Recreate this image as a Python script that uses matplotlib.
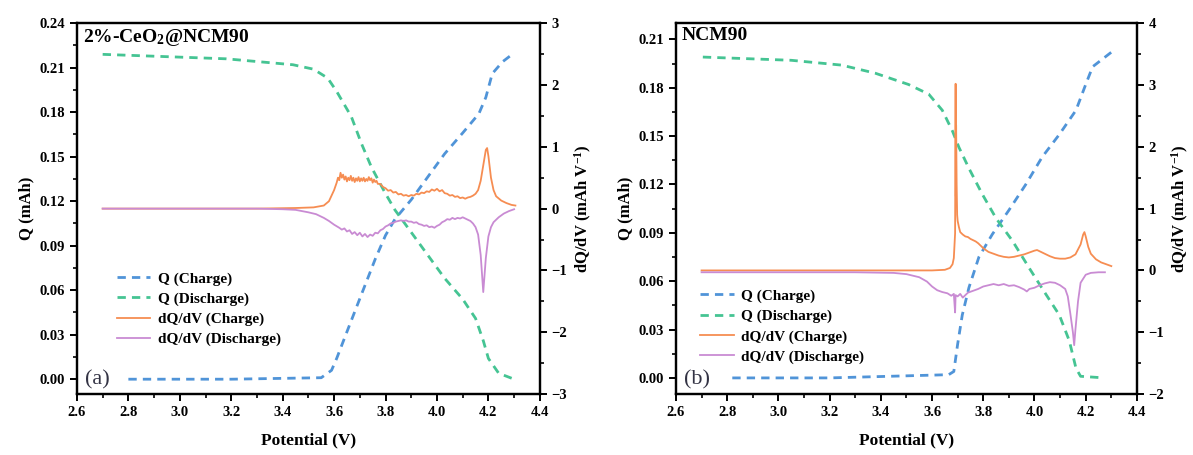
import numpy as np
import matplotlib.pyplot as plt
from matplotlib.ticker import MultipleLocator

# ---------------------------
# STYLE
# ---------------------------
plt.rcParams['font.family'] = ['Liberation Serif', 'DejaVu Serif']
plt.rcParams['font.weight'] = 'bold'
plt.rcParams['axes.labelweight'] = 'bold'
plt.rcParams['mathtext.fontset'] = 'custom'
plt.rcParams['mathtext.rm'] = 'Liberation Serif:bold'
plt.rcParams['mathtext.bf'] = 'Liberation Serif:bold'
plt.rcParams['mathtext.it'] = 'Liberation Serif:bold'

c_qc = "#5094d8"
c_qd = "#45c493"
c_dc = "#f68d52"
c_dd = "#c98bd3"

# ---------------------------
# DATA (a) 2%-CeO2@NCM90
# ---------------------------
a_qc_v = [2.80, 3.20, 3.55, 3.59, 3.61, 3.65, 3.706, 3.76, 3.80, 3.837, 3.90, 3.967,
          4.03, 4.10, 4.163, 4.19, 4.215, 4.255, 4.30]
a_qc_q = [0.000, 0.000, 0.001, 0.006, 0.014, 0.032, 0.057, 0.081, 0.097, 0.108, 0.121, 0.137,
          0.152, 0.166, 0.179, 0.190, 0.206, 0.214, 0.220]

a_qd_v = [2.70, 3.18, 3.44, 3.52, 3.575, 3.61, 3.667, 3.706, 3.745, 3.797, 3.837, 3.90,
          3.967, 4.03, 4.10, 4.15, 4.18, 4.20, 4.24, 4.30]
a_qd_q = [0.219, 0.216, 0.212, 0.209, 0.203, 0.194, 0.177, 0.159, 0.143, 0.126, 0.114, 0.099,
          0.083, 0.068, 0.054, 0.041, 0.026, 0.014, 0.004, 0.000]

a_dc_v = [2.70, 3.00, 3.30, 3.45, 3.52, 3.56, 3.58, 3.60, 3.61, 3.615, 3.62, 3.625, 3.63, 3.635,
          3.64, 3.645, 3.65, 3.655, 3.66, 3.665, 3.67, 3.675, 3.68, 3.685, 3.69, 3.695, 3.70,
          3.705, 3.71, 3.715, 3.72, 3.725, 3.73, 3.735, 3.74, 3.745, 3.75, 3.755, 3.76, 3.765,
          3.77, 3.78, 3.79, 3.80, 3.81, 3.82, 3.83, 3.84, 3.85, 3.86, 3.87, 3.88, 3.89, 3.90,
          3.91, 3.92, 3.93, 3.94, 3.95, 3.96, 3.97, 3.98, 3.99, 4.00, 4.01, 4.02, 4.03, 4.04,
          4.05, 4.06, 4.07, 4.08, 4.09, 4.10, 4.11, 4.12, 4.13, 4.14, 4.15, 4.16, 4.17, 4.18,
          4.19, 4.195, 4.20, 4.21, 4.22, 4.23, 4.25, 4.27, 4.29, 4.305]
a_dc_y = [0.00, 0.00, 0.00, 0.01, 0.02, 0.05, 0.12, 0.30, 0.42, 0.50, 0.46, 0.58, 0.50, 0.55,
          0.47, 0.52, 0.44, 0.50, 0.46, 0.53, 0.45, 0.50, 0.43, 0.49, 0.45, 0.51, 0.44,
          0.49, 0.45, 0.50, 0.44, 0.48, 0.45, 0.51, 0.46, 0.49, 0.42, 0.47, 0.43, 0.45,
          0.40, 0.40, 0.35, 0.33, 0.29, 0.30, 0.26, 0.27, 0.23, 0.24, 0.21, 0.22, 0.20, 0.22,
          0.21, 0.24, 0.23, 0.26, 0.25, 0.28, 0.27, 0.31, 0.29, 0.32, 0.28, 0.30, 0.25, 0.24,
          0.21, 0.22, 0.19, 0.20, 0.17, 0.18, 0.16, 0.18, 0.19, 0.21, 0.24, 0.30, 0.45, 0.70,
          0.95, 0.98, 0.85, 0.50, 0.30, 0.20, 0.13, 0.09, 0.06, 0.05]

a_dd_v = [2.70, 3.00, 3.30, 3.40, 3.45, 3.50, 3.53, 3.56, 3.58, 3.60, 3.62, 3.63, 3.64, 3.65,
          3.66, 3.67, 3.68, 3.69, 3.70, 3.71, 3.72, 3.73, 3.74, 3.75, 3.76, 3.77, 3.78, 3.79,
          3.80, 3.81, 3.82, 3.83, 3.84, 3.85, 3.86, 3.87, 3.88, 3.89, 3.90, 3.91, 3.92, 3.93,
          3.94, 3.95, 3.96, 3.97, 3.98, 3.99, 4.00, 4.01, 4.02, 4.03, 4.04, 4.05, 4.06, 4.07,
          4.08, 4.09, 4.10, 4.11, 4.12, 4.13, 4.14, 4.15, 4.16, 4.17, 4.18, 4.19, 4.20, 4.21,
          4.22, 4.24, 4.26, 4.28, 4.30]
a_dd_y = [0.00, 0.00, 0.00, -0.01, -0.02, -0.06, -0.09, -0.15, -0.20, -0.26, -0.31, -0.34, -0.32, -0.37,
          -0.35, -0.41, -0.38, -0.43, -0.39, -0.45, -0.41, -0.46, -0.42, -0.44, -0.39, -0.40, -0.35, -0.33,
          -0.29, -0.27, -0.24, -0.23, -0.21, -0.20, -0.19, -0.20, -0.19, -0.21, -0.21, -0.23, -0.22, -0.25,
          -0.26, -0.28, -0.27, -0.30, -0.29, -0.31, -0.28, -0.26, -0.22, -0.20, -0.17, -0.18, -0.15, -0.17,
          -0.15, -0.16, -0.14, -0.16, -0.18, -0.20, -0.24, -0.30, -0.42, -0.75, -1.35, -0.80, -0.45, -0.30,
          -0.22, -0.14, -0.08, -0.04, -0.01]

# ---------------------------
# DATA (b) NCM90
# ---------------------------
b_qc_v = [2.82, 3.20, 3.665, 3.685, 3.70, 3.718, 3.744, 3.783, 3.835, 3.90, 3.966, 4.03,
          4.097, 4.162, 4.20, 4.227, 4.30]
b_qc_q = [0.000, 0.000, 0.002, 0.004, 0.021, 0.039, 0.056, 0.075, 0.089, 0.104, 0.120, 0.137,
          0.151, 0.166, 0.182, 0.193, 0.202]

b_qd_v = [2.705, 3.05, 3.247, 3.378, 3.508, 3.587, 3.64, 3.68, 3.705, 3.744, 3.796, 3.85,
          3.914, 3.98, 4.044, 4.097, 4.136, 4.162, 4.18, 4.273]
b_qd_q = [0.199, 0.197, 0.194, 0.189, 0.182, 0.176, 0.166, 0.153, 0.143, 0.130, 0.114, 0.099,
          0.085, 0.068, 0.052, 0.039, 0.023, 0.006, 0.001, 0.000]

b_dc_v = [2.70, 3.00, 3.30, 3.50, 3.60, 3.65, 3.67, 3.68, 3.685, 3.69, 3.692, 3.693, 3.694,
          3.696, 3.698, 3.70, 3.705, 3.71, 3.72, 3.73, 3.74, 3.75, 3.76, 3.77, 3.78, 3.79,
          3.80, 3.81, 3.82, 3.84, 3.86, 3.88, 3.90, 3.92, 3.94, 3.96, 3.98, 4.00, 4.01, 4.02,
          4.04, 4.06, 4.08, 4.10, 4.12, 4.14, 4.16, 4.18, 4.19, 4.195, 4.20, 4.21, 4.22, 4.24,
          4.26, 4.28, 4.30]
b_dc_y = [0.00, 0.00, 0.00, 0.00, 0.00, 0.01, 0.04, 0.10, 0.20, 0.60, 3.02, 1.20, 2.35,
          1.40, 0.90, 0.80, 0.70, 0.62, 0.58, 0.55, 0.54, 0.51, 0.49, 0.47, 0.44, 0.40,
          0.36, 0.33, 0.30, 0.27, 0.24, 0.22, 0.21, 0.22, 0.24, 0.26, 0.29, 0.32, 0.33, 0.31,
          0.27, 0.23, 0.20, 0.19, 0.19, 0.21, 0.26, 0.42, 0.58, 0.62, 0.55, 0.38, 0.27, 0.18,
          0.13, 0.10, 0.07]

b_dd_v = [2.70, 3.00, 3.30, 3.45, 3.50, 3.55, 3.58, 3.60, 3.62, 3.64, 3.66, 3.675, 3.685,
          3.69, 3.692, 3.70, 3.71, 3.72, 3.73, 3.74, 3.76, 3.78, 3.80, 3.82, 3.84, 3.86, 3.88,
          3.90, 3.92, 3.94, 3.96, 3.97, 3.98, 4.00, 4.02, 4.04, 4.06, 4.08, 4.10, 4.12, 4.13,
          4.14, 4.15, 4.155, 4.16, 4.17, 4.18, 4.20, 4.22, 4.25, 4.275]
b_dd_y = [-0.03, -0.03, -0.03, -0.04, -0.06, -0.11, -0.18, -0.26, -0.32, -0.35, -0.37, -0.41, -0.38,
          -0.68, -0.40, -0.42, -0.38, -0.44, -0.40, -0.36, -0.33, -0.30, -0.26, -0.24, -0.22, -0.24, -0.22,
          -0.25, -0.24, -0.27, -0.31, -0.34, -0.30, -0.28, -0.24, -0.21, -0.19, -0.20, -0.24, -0.30, -0.42,
          -0.70, -1.00, -1.21, -0.95, -0.50, -0.20, -0.07, -0.04, -0.03, -0.03]


# ---------------------------
# HELPERS
# ---------------------------
def style_axis(ax):
    for s in ax.spines.values():
        s.set_linewidth(1.6)
    ax.tick_params(which='major', direction='out', length=5, width=1.4, labelsize=10.5)
    ax.tick_params(which='minor', direction='out', length=3, width=1.2)


def draw_panel(rect, qc, qd, dc, dd, ylim_q, ylim_d, tag, name, leg_xy):
    ax = fig.add_axes(rect)
    ax2 = ax.twinx()
    dash = (0, (3, 2.2))
    l1, = ax.plot(qc[0], qc[1], color=c_qc, lw=2, linestyle=dash, label="Q (Charge)")
    l2, = ax.plot(qd[0], qd[1], color=c_qd, lw=2, linestyle=dash, label="Q (Discharge)")
    l3, = ax2.plot(dc[0], dc[1], color=c_dc, lw=1.3, label="dQ/dV (Charge)")
    l4, = ax2.plot(dd[0], dd[1], color=c_dd, lw=1.3, label="dQ/dV (Discharge)")

    ax.set_xlim(2.6, 4.4)
    ax.set_ylim(*ylim_q)
    ax2.set_ylim(*ylim_d)
    ax.xaxis.set_major_locator(MultipleLocator(0.2))
    ax.xaxis.set_minor_locator(MultipleLocator(0.1))
    ax.yaxis.set_major_locator(MultipleLocator(0.03))
    ax.yaxis.set_minor_locator(MultipleLocator(0.015))
    ax2.yaxis.set_major_locator(MultipleLocator(1))
    ax2.yaxis.set_minor_locator(MultipleLocator(0.5))
    ax.yaxis.set_major_formatter(plt.FormatStrFormatter('%.2f'))
    ax.xaxis.set_major_formatter(plt.FormatStrFormatter('%.1f'))
    style_axis(ax)
    style_axis(ax2)

    ax.set_xlabel("Potential (V)", fontsize=12.5, labelpad=10)
    ax.set_ylabel("Q (mAh)", fontsize=12, labelpad=4)
    ax2.set_ylabel(r"dQ/dV (mAh V$^{-1}$)", fontsize=12, labelpad=4)

    ax.text(0.012, 0.99, name, transform=ax.transAxes, ha='left', va='top', fontsize=14)
    ax.text(0.018, 0.012, tag, transform=ax.transAxes, ha='left', va='bottom',
            fontsize=16, fontweight='normal', color='#333344')

    ax.legend(handles=[l1, l2, l3, l4], loc='upper left', bbox_to_anchor=leg_xy,
              frameon=False, fontsize=11, handlelength=2.2, handletextpad=0.5,
              labelspacing=0.42, borderpad=0, borderaxespad=0)
    return ax, ax2


# ---------------------------
# FINAL PLOT
# ---------------------------
fig = plt.figure(figsize=(11.93, 4.55), dpi=100)

draw_panel([0.0645, 0.134, 0.388, 0.815],
           (a_qc_v, a_qc_q), (a_qd_v, a_qd_q), (a_dc_v, a_dc_y), (a_dd_v, a_dd_y),
           (-0.01, 0.24), (-3, 3), "(a)", r"2%-CeO$_2$@NCM90", (0.086, 0.33))

draw_panel([0.5666, 0.134, 0.3864, 0.815],
           (b_qc_v, b_qc_q), (b_qd_v, b_qd_q), (b_dc_v, b_dc_y), (b_dd_v, b_dd_y),
           (-0.01, 0.22), (-2, 4), "(b)", "NCM90", (0.052, 0.283))

fig.savefig("out.png", dpi=100)
